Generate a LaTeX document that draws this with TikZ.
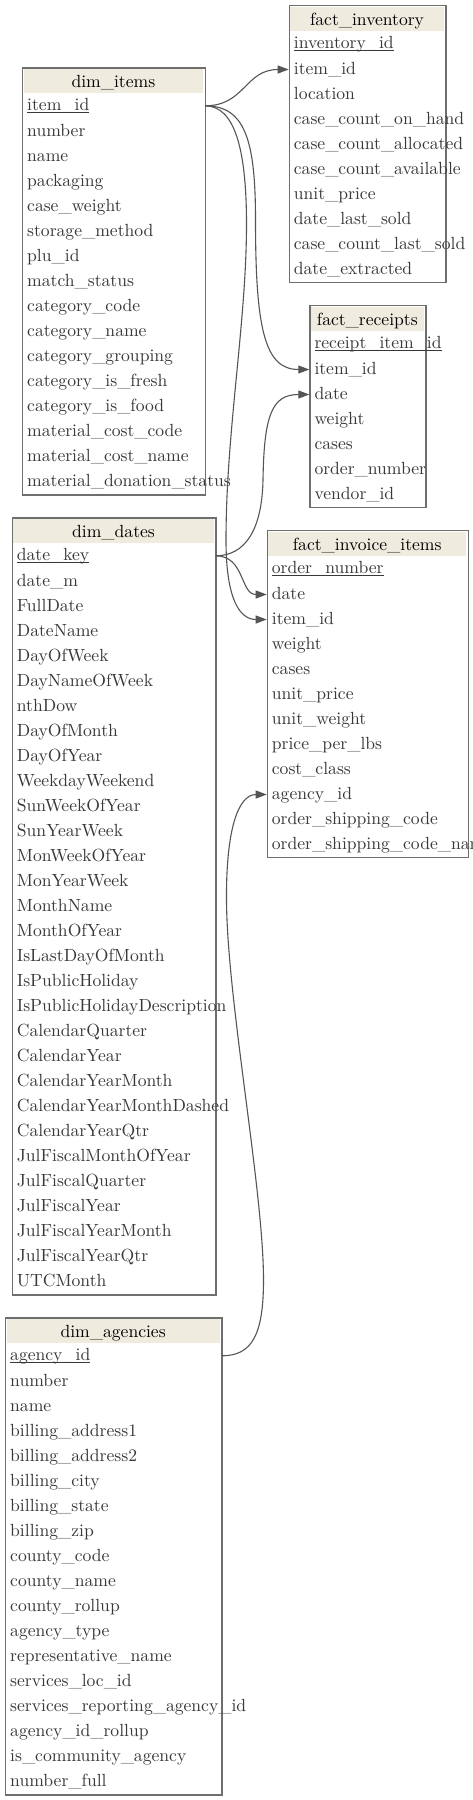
\documentclass[tikz,border=0pt]{standalone}
\usepackage{graphicx}
\usetikzlibrary{arrows.meta}
\definecolor{hdrfill}{HTML}{EFEBDF}
\definecolor{boxline}{HTML}{6E6E6E}
\definecolor{rowtext}{HTML}{383838}
\definecolor{edgecol}{HTML}{555555}
\newcommand{\sz}[1]{\scalebox{1.76}{#1}}
\newcommand{\pkul}[1]{\setbox0\hbox{#1}\rlap{\vrule width \wd0 height -1.4pt depth 2.4pt}\box0}
\tikzset{
  tbox/.style={draw=boxline, line width=1.2pt, inner sep=0pt},
  ttl/.style={anchor=base, inner sep=0pt, text=black},
  rowtxt/.style={anchor=base west, inner xsep=5pt, inner ysep=0pt, text height=14pt, text depth=4pt, text=rowtext},
  fk/.style={draw=edgecol, line width=1.1pt, -{Triangle[length=11pt,width=8pt]}},
}
% #1 name, #2 left, #3 right, #4 top, #5 bottom, #6 title, #7 rows
\newcommand{\ertable}[7]{%
  \pgfmathsetmacro{\tw}{#3-#2-10}%
  \pgfmathsetmacro{\bw}{#3-#2}%
  \pgfmathsetmacro{\bh}{#5-#4}%
  \fill[hdrfill] (#2+1.5,#4+1.5) rectangle (#3-1.5,#4+26);
  \node[tbox, anchor=north west, minimum width=\bw pt, minimum height=\bh pt] (#1) at (#2,#4) {};
  \node[ttl] (#1-title) at ({(#2+#3)/2},#4+20) {\sz{#6}};
  \foreach \txt [count=\i] in {#7} {
    \pgfmathsetmacro{\yb}{#4+43.5+26*min(\i-1,1)+25*max(\i-2,0)}
    \node[rowtxt] (#1-\i) at (#2,\yb) {\makebox[\tw pt][l]{\ifnum\i=1 \pkul{\sz{\txt}}\else\sz{\txt}\fi}};
  }
}
\begin{document}
\begin{tikzpicture}[x=1pt,y=-1pt]
\useasboundingbox (0,0) rectangle (473,1800);
\fill[white] (0,0) rectangle (473,1800);

\ertable{fi}{288.7}{445.3}{5}{282}{fact\_inventory}{inventory\_id,item\_id,location,case\_count\_on\_hand,case\_count\_allocated,case\_count\_available,unit\_price,date\_last\_sold,case\_count\_last\_sold,date\_extracted}

\ertable{di}{22}{204.7}{67.3}{494.3}{dim\_items}{item\_id,number,name,packaging,case\_weight,storage\_method,plu\_id,match\_status,category\_code,category\_name,category\_grouping,category\_is\_fresh,category\_is\_food,material\_cost\_code,material\_cost\_name,material\_donation\_status}

\ertable{fr}{309.3}{425.3}{305}{507}{fact\_receipts}{receipt\_item\_id,item\_id,date,weight,cases,order\_number,vendor\_id}

\ertable{dd}{11.7}{215.3}{517.3}{1294.3}{dim\_dates}{date\_key,date\_m,FullDate,DateName,DayOfWeek,DayNameOfWeek,nthDow,DayOfMonth,DayOfYear,WeekdayWeekend,SunWeekOfYear,SunYearWeek,MonWeekOfYear,MonYearWeek,MonthName,MonthOfYear,IsLastDayOfMonth,IsPublicHoliday,IsPublicHolidayDescription,CalendarQuarter,CalendarYear,CalendarYearMonth,CalendarYearMonthDashed,CalendarYearQtr,JulFiscalMonthOfYear,JulFiscalQuarter,JulFiscalYear,JulFiscalYearMonth,JulFiscalYearQtr,UTCMonth}

\ertable{ii}{266.7}{467.7}{530}{857}{fact\_invoice\_items}{order\_number,date,item\_id,weight,cases,unit\_price,unit\_weight,price\_per\_lbs,cost\_class,agency\_id,order\_shipping\_code,order\_shipping\_code\_name}

\ertable{da}{5}{221.3}{1317.3}{1794.3}{dim\_agencies}{agency\_id,number,name,billing\_address1,billing\_address2,billing\_city,billing\_state,billing\_zip,county\_code,county\_name,county\_rollup,agency\_type,representative\_name,services\_loc\_id,services\_reporting\_agency\_id,agency\_id\_rollup,is\_community\_agency,number\_full}

% connectors
\draw[fk] (di-1.east) .. controls (245,105.8) and (245,69.5) .. (fi-2.west);
\draw[fk] (di-1.east) .. controls (245,105.8) and (255.5,140) .. (255.5,220) .. controls (255.5,330) and (265,369.5) .. (fr-2.west);
\draw[fk] (di-1.east) .. controls (235,105.8) and (246,150) .. (246.5,220) .. controls (247,320) and (226,430) .. (226,540) .. controls (226,600) and (240,619.5) .. (ii-3.west);
\draw[fk] (dd-1.east) .. controls (245,555.8) and (262,530) .. (263,480) .. controls (264,415) and (272,394.5) .. (fr-3.west);
\draw[fk] (dd-1.east) .. controls (245,555.8) and (240,594.5) .. (ii-2.west);
\draw[fk] (da-1.east) .. controls (252,1355.8) and (263.5,1335) .. (263.5,1280) .. controls (263.5,1190) and (227,1000) .. (226.5,900) .. controls (226,830) and (238,794.5) .. (ii-10.west);
\end{tikzpicture}
\end{document}
